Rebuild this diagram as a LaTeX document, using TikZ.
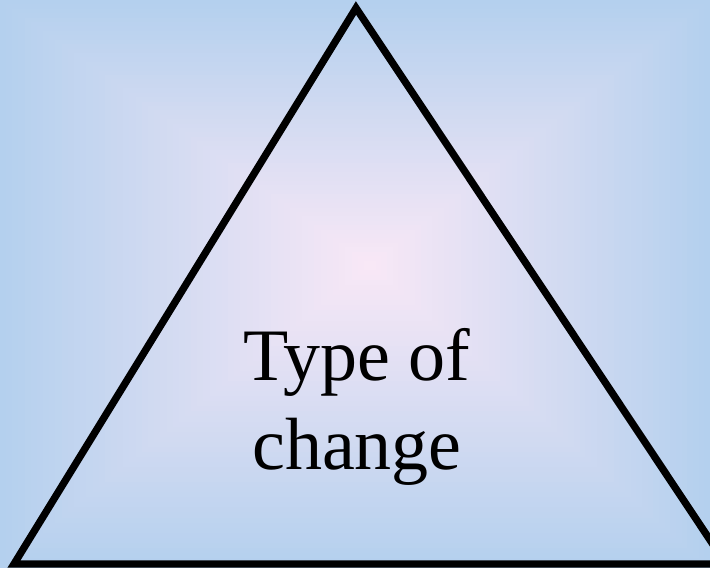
\documentclass[tikz,border=0pt]{standalone}
\usepackage{fontspec}
\setmainfont{Liberation Serif}
\definecolor{edgeblue}{RGB}{180,208,238}
\definecolor{centerpink}{RGB}{249,232,246}
\tikzset{
  tri/.style={line width=7.3pt, line join=miter, draw=black},
  label/.style={font=\fontsize{74}{89}\selectfont, text=black, inner sep=0pt, anchor=base}
}
\begin{document}
\begin{tikzpicture}[x=1pt,y=1pt]
  \useasboundingbox (0,0) rectangle (710,568);
  \begin{scope}
    \clip (0,0) rectangle (710,568);
    \foreach \i in {0,...,60}{
      \pgfmathsetmacro{\t}{\i/60}
      \pgfmathsetmacro{\p}{100*\t}
      \colorlet{band}{centerpink!\p!edgeblue}
      \fill[band] ({\t*370},{\t*303}) rectangle ({710-\t*340},{568-\t*265});
    }
    \coordinate (apex) at (356,560);
    \coordinate (bl) at (14,4);
    \coordinate (br) at (726,4);
    \draw[tri] (apex) -- (br) -- (bl) -- cycle;
  \end{scope}
  \node[label] (txt1) at (357,187) {Type of};
  \node[label] (txt2) at (357,98) {change};
\end{tikzpicture}
\end{document}
